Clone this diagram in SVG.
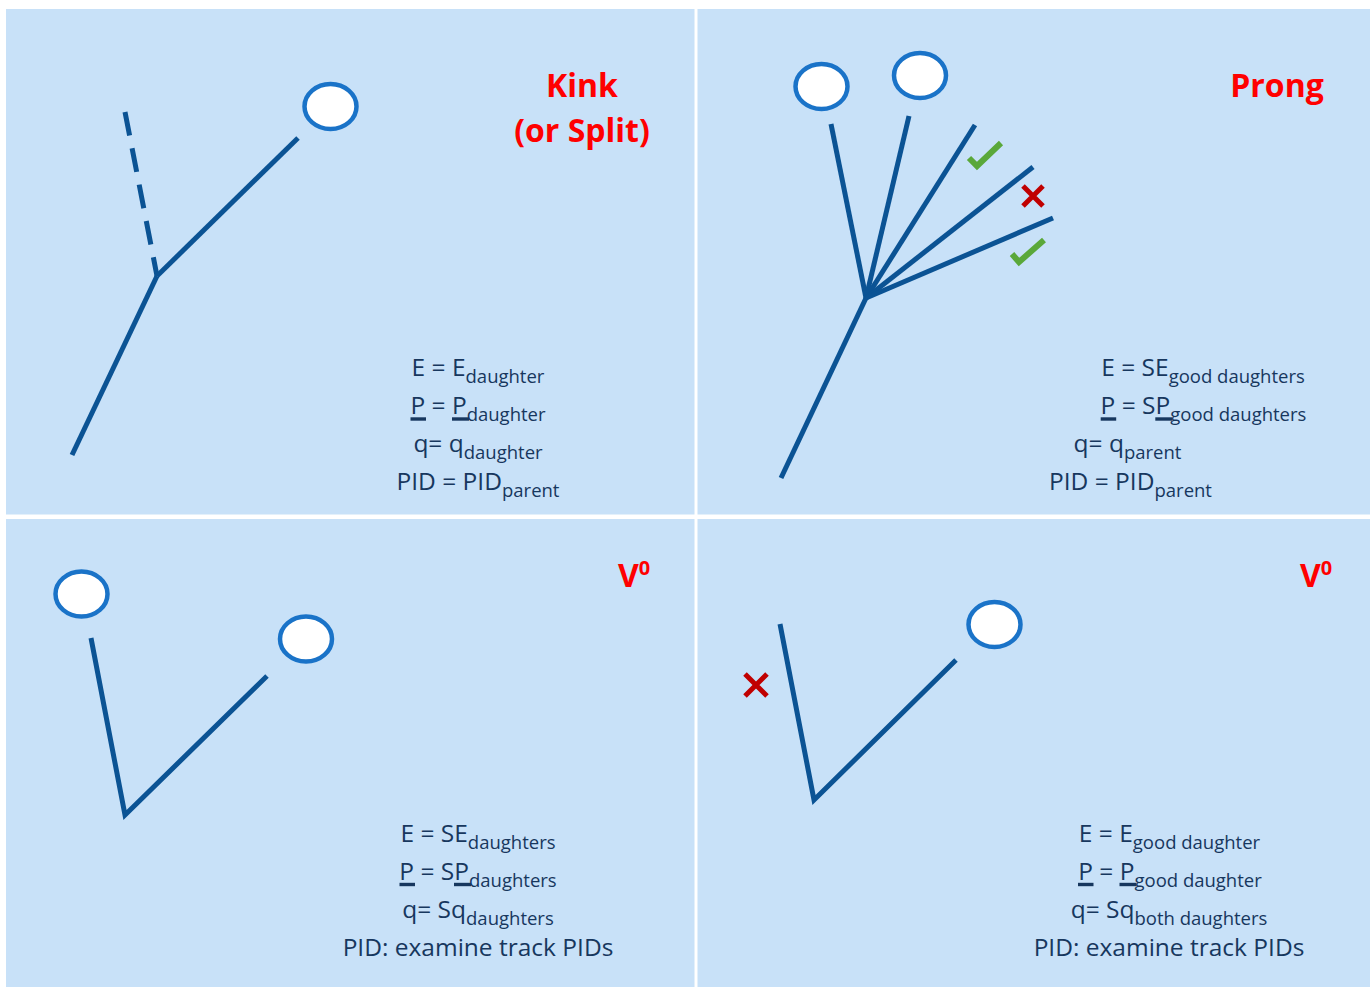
<svg xmlns="http://www.w3.org/2000/svg" width="1370" height="987" viewBox="0 0 1370 987">
  <style>
    .panel { fill: #C8E1F8; }
    .track { fill: none; stroke: #0B5394; stroke-width: 5; stroke-linecap: butt; stroke-linejoin: miter; }
    .hit { fill: #FFFFFF; stroke: #1A73C8; stroke-width: 4.5; }
    .title { font-family: "Open Sans", "Liberation Sans", sans-serif; font-weight: bold; font-size: 32px; fill: #FF0000; }
    .eq { font-family: "Open Sans", "Liberation Sans", sans-serif; font-size: 24.5px; fill: #17375E; }
    .sub { font-size: 18.5px; }
    .bar { fill: #17375E; }
    .ok { fill: none; stroke: #5AA83A; stroke-width: 6; }
    .bad { fill: none; stroke: #C00000; stroke-width: 5; }
  </style>

  <rect width="1370" height="987" fill="#FFFFFF"/>

  <!-- quadrant backgrounds -->
  <g id="panels">
    <rect class="panel" x="6" y="9" width="688.5" height="505.5"/>
    <rect class="panel" x="697.5" y="9" width="672.5" height="505.5"/>
    <rect class="panel" x="6" y="519" width="688.5" height="468"/>
    <rect class="panel" x="697.5" y="519" width="672.5" height="468"/>
  </g>

  <!-- tracks -->
  <g id="connectors">
    <!-- kink -->
    <line class="track" x1="72" y1="455" x2="157" y2="276"/>
    <line class="track" x1="157" y1="276" x2="298" y2="138"/>
    <line class="track" x1="125" y1="112" x2="157" y2="276" stroke-dasharray="24 13"/>
    <!-- prong -->
    <line class="track" x1="781" y1="478" x2="866" y2="298"/>
    <line class="track" x1="866" y1="298" x2="831" y2="124"/>
    <line class="track" x1="866" y1="298" x2="909" y2="116"/>
    <line class="track" x1="866" y1="298" x2="975" y2="125"/>
    <line class="track" x1="866" y1="298" x2="1033" y2="167"/>
    <line class="track" x1="866" y1="298" x2="1053" y2="218"/>
    <!-- V0 -->
    <polyline class="track" points="91,638 125,815 267,676"/>
    <polyline class="track" points="780,624 814,800 956,660"/>
  </g>

  <!-- panel: kink -->
  <g id="kink">
    <ellipse class="hit" cx="330.5" cy="106.5" rx="26" ry="22.5"/>
    <text class="title" x="582" y="97" text-anchor="middle">Kink</text>
    <text class="title" x="582" y="142" text-anchor="middle">(or Split)</text>
    <text class="eq" x="478" y="376" text-anchor="middle">E = E<tspan class="sub" dy="7">daughter</tspan></text>
    <text class="eq" x="478" y="414" text-anchor="middle">P = P<tspan class="sub" dy="7">daughter</tspan></text>
    <rect class="bar" x="410.5" y="417.3" width="15.5" height="3.4"/>
    <rect class="bar" x="452" y="417.3" width="17" height="3.4"/>
    <text class="eq" x="478" y="452" text-anchor="middle">q= q<tspan class="sub" dy="7">daughter</tspan></text>
    <text class="eq" x="478" y="490" text-anchor="middle">PID = PID<tspan class="sub" dy="7">parent</tspan></text>
  </g>

  <!-- panel: prong -->
  <g id="prong">
    <ellipse class="hit" cx="821.5" cy="86.5" rx="26" ry="22.5"/>
    <ellipse class="hit" cx="920" cy="75.5" rx="26" ry="22.5"/>
    <polyline class="ok" points="969,158 977,166 1001,143"/>
    <path class="bad" d="M1023,186 L1043,206 M1043,186 L1023,206"/>
    <polyline class="ok" points="1012,254 1019,262 1044,240"/>
    <text class="title" x="1277" y="97" text-anchor="middle">Prong</text>
    <text class="eq" x="1203" y="376" text-anchor="middle">E = SE<tspan class="sub" dy="7">good daughters</tspan></text>
    <text class="eq" x="1203.5" y="414" text-anchor="middle">P = SP<tspan class="sub" dy="7">good daughters</tspan></text>
    <rect class="bar" x="1100.7" y="417.3" width="15.5" height="3.4"/>
    <rect class="bar" x="1155.3" y="417.3" width="17" height="3.4"/>
    <text class="eq" x="1127.5" y="452" text-anchor="middle">q= q<tspan class="sub" dy="7">parent</tspan></text>
    <text class="eq" x="1130.5" y="490" text-anchor="middle">PID = PID<tspan class="sub" dy="7">parent</tspan></text>
  </g>

  <!-- panel: V0, both daughters -->
  <g id="v0-both">
    <ellipse class="hit" cx="81.5" cy="594" rx="26" ry="22.5"/>
    <ellipse class="hit" cx="306" cy="639" rx="26" ry="22.5"/>
    <text class="title" x="618" y="587">V<tspan font-size="20" dy="-12">0</tspan></text>
    <text class="eq" x="478" y="841.5" text-anchor="middle">E = SE<tspan class="sub" dy="7">daughters</tspan></text>
    <text class="eq" x="478" y="879.5" text-anchor="middle">P = SP<tspan class="sub" dy="7">daughters</tspan></text>
    <rect class="bar" x="399.5" y="882.8" width="15.5" height="3.4"/>
    <rect class="bar" x="454" y="882.8" width="17" height="3.4"/>
    <text class="eq" x="478" y="917.5" text-anchor="middle">q= Sq<tspan class="sub" dy="7">daughters</tspan></text>
    <text class="eq" x="478" y="955.5" text-anchor="middle">PID: examine track PIDs</text>
  </g>

  <!-- panel: V0, one good daughter -->
  <g id="v0-one">
    <ellipse class="hit" cx="994.5" cy="624.5" rx="26" ry="22.5"/>
    <path class="bad" d="M745,674 L767,696 M767,674 L745,696"/>
    <text class="title" x="1300" y="587">V<tspan font-size="20" dy="-12">0</tspan></text>
    <text class="eq" x="1169.5" y="841.5" text-anchor="middle">E = E<tspan class="sub" dy="7">good daughter</tspan></text>
    <text class="eq" x="1170" y="879.5" text-anchor="middle">P = P<tspan class="sub" dy="7">good daughter</tspan></text>
    <rect class="bar" x="1078" y="882.8" width="15.5" height="3.4"/>
    <rect class="bar" x="1119.5" y="882.8" width="17" height="3.4"/>
    <text class="eq" x="1169" y="917.5" text-anchor="middle">q= Sq<tspan class="sub" dy="7">both daughters</tspan></text>
    <text class="eq" x="1169" y="955.5" text-anchor="middle">PID: examine track PIDs</text>
  </g>
</svg>
